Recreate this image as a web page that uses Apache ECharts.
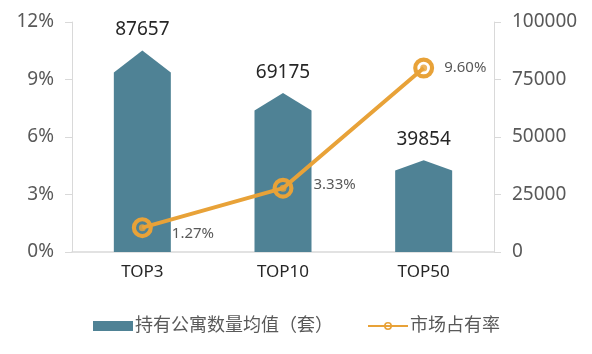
<!DOCTYPE html>
<html><head><meta charset="utf-8">
<script src="https://cdn.jsdelivr.net/npm/echarts@6/dist/echarts.min.js"></script>
<style>html,body{margin:0;padding:0;background:#fff}#c{width:592px;height:354px}</style>
</head><body><div id="c"></div>
<script>
const categories = ['TOP3', 'TOP10', 'TOP50'];
const apartmentAvg = [87657, 69175, 39854];
const marketShare = [1.27, 3.33, 9.60];
const leftTicks = [0, 3, 6, 9, 12];
const rightTicks = [0, 25000, 50000, 75000, 100000];
const barName = '持有公寓数量均值（套）';
const lineName = '市场占有率';

const font = '"Noto Sans","Noto Sans CJK SC",sans-serif';
const barColor = '#4F8295';
const lineColor = '#E8A238';
const axisColor = '#D9D9D9';
const ringPath = 'path://M10,0 A10,10 0 1,1 10,20 A10,10 0 1,1 10,0 Z M10,4 A6,6 0 1,0 10,16 A6,6 0 1,0 10,4 Z';
const labelOffsets = [[14, 6], [15, -3], [5, 0]];

const chart = echarts.init(document.getElementById('c'));
chart.setOption({
  animation: false,
  textStyle: { fontFamily: font },
  grid: { left: 72, right: 98, top: 22, bottom: 102 },
  legend: {
    left: 88, top: 312, itemGap: 34, itemWidth: 40, itemHeight: 10,
    textStyle: { fontSize: 18, color: '#595959', fontFamily: font, padding: [0, 0, 0, -3] },
    data: [{ name: barName, icon: 'rect' }, { name: lineName }]
  },
  xAxis: {
    type: 'category', data: categories,
    axisLine: { lineStyle: { color: axisColor, width: 1.5 } },
    axisTick: { show: false },
    axisLabel: { fontSize: 17, color: '#262626', margin: 12 }
  },
  yAxis: [
    {
      type: 'value', min: leftTicks[0], max: leftTicks[leftTicks.length - 1], interval: 3,
      axisLine: { show: true, lineStyle: { color: axisColor } },
      axisTick: { show: true, length: 7, lineStyle: { color: axisColor } },
      splitLine: { show: false },
      axisLabel: { fontSize: 19, color: '#595959', margin: 18, formatter: '{value}%' }
    },
    {
      type: 'value', min: rightTicks[0], max: rightTicks[rightTicks.length - 1], interval: 25000,
      axisLine: { show: true, lineStyle: { color: axisColor } },
      axisTick: { show: true, length: 7, lineStyle: { color: axisColor } },
      splitLine: { show: false },
      axisLabel: { fontSize: 19, color: '#595959', margin: 18, formatter: v => String(v) }
    }
  ],
  series: [
    {
      name: barName, type: 'pictorialBar', yAxisIndex: 1,
      symbol: 'path://M0,11 L50,0 L100,11 L100,100 L0,100 Z',
      symbolSize: [57, '100%'],
      itemStyle: { color: barColor },
      label: { show: true, position: 'top', distance: 11, fontSize: 19, color: '#262626' },
      data: apartmentAvg, z: 2
    },
    {
      name: lineName, type: 'line', yAxisIndex: 0,
      symbol: ringPath, symbolSize: 21,
      lineStyle: { color: lineColor, width: 4 },
      itemStyle: { color: lineColor },
      data: marketShare.map((v, i) => ({
        value: v,
        label: { show: true, position: 'right', offset: labelOffsets[i], fontSize: 15, color: '#595959',
          formatter: p => p.value.toFixed(2) + '%' }
      })),
      z: 5
    },
    {
      name: lineName + '-dot', type: 'scatter', yAxisIndex: 0,
      symbol: 'circle', symbolSize: 7, itemStyle: { color: lineColor },
      data: marketShare, z: 6, silent: true
    }
  ]
});
</script></body></html>
